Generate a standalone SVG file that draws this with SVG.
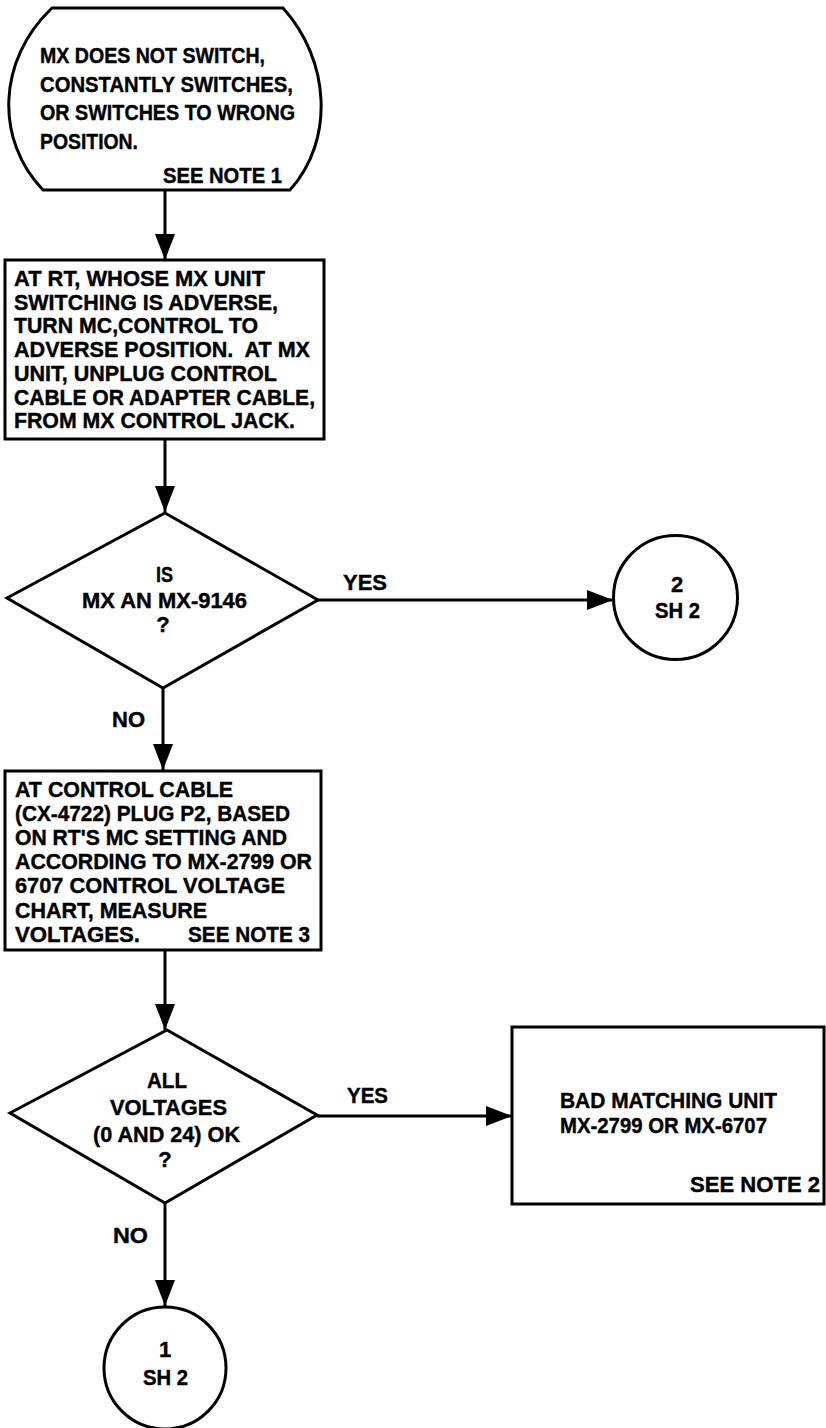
<svg xmlns="http://www.w3.org/2000/svg" width="826" height="1428" viewBox="0 0 826 1428">
<style>
.s{fill:#fff;stroke:#000;stroke-width:3;stroke-linejoin:miter}
.c{stroke:#000;stroke-width:3;fill:none}
text{font-family:"Liberation Sans","Arial",sans-serif;font-weight:bold;font-size:22px;fill:#000;stroke:#000;stroke-width:0.4}
.m{text-anchor:middle}
</style>
<defs>
<marker id="ah" markerUnits="userSpaceOnUse" markerWidth="26" markerHeight="20" refX="26" refY="10" orient="auto">
<path d="M0,0 L26,10 L0,20 Z" fill="#000"/>
</marker>
</defs>
<rect width="826" height="1428" fill="#fff"/>
<g id="connectors">
<line class="c" x1="165" y1="190" x2="165" y2="260" marker-end="url(#ah)"/>
<line class="c" x1="165" y1="439" x2="165" y2="512" marker-end="url(#ah)"/>
<line class="c" x1="163" y1="688" x2="163" y2="770" marker-end="url(#ah)"/>
<line class="c" x1="318" y1="600" x2="613" y2="600" marker-end="url(#ah)"/>
<line class="c" x1="165" y1="950" x2="165" y2="1030" marker-end="url(#ah)"/>
<line class="c" x1="317" y1="1116" x2="512" y2="1116" marker-end="url(#ah)"/>
<line class="c" x1="165" y1="1203" x2="165" y2="1306" marker-end="url(#ah)"/>
<text x="343" y="590" textLength="44" lengthAdjust="spacingAndGlyphs">YES</text>
<text x="112" y="727" textLength="33" lengthAdjust="spacingAndGlyphs">NO</text>
<text x="347" y="1103" textLength="41" lengthAdjust="spacingAndGlyphs">YES</text>
<text x="113" y="1243" textLength="35" lengthAdjust="spacingAndGlyphs">NO</text>
</g>
<g id="start">
<path class="s" d="M52,8 H283 C330,60 335,140 290,190 H43 C-5,140 -3,60 52,8 Z"/>
<text x="40" y="63" textLength="225" lengthAdjust="spacingAndGlyphs">MX DOES NOT SWITCH,</text>
<text x="40" y="91.5" textLength="253" lengthAdjust="spacingAndGlyphs">CONSTANTLY SWITCHES,</text>
<text x="40" y="120" textLength="255" lengthAdjust="spacingAndGlyphs">OR SWITCHES TO WRONG</text>
<text x="40" y="148.5" textLength="98" lengthAdjust="spacingAndGlyphs">POSITION.</text>
<text x="163" y="183" textLength="119" lengthAdjust="spacingAndGlyphs">SEE NOTE 1</text>
</g>
<g id="step1">
<rect class="s" x="5" y="260" width="319" height="179"/>
<text x="14" y="286" textLength="251" lengthAdjust="spacingAndGlyphs">AT RT, WHOSE MX UNIT</text>
<text x="14" y="309.7" textLength="264" lengthAdjust="spacingAndGlyphs">SWITCHING IS ADVERSE,</text>
<text x="14" y="333.4" textLength="244" lengthAdjust="spacingAndGlyphs">TURN MC,CONTROL TO</text>
<text x="14" y="357" textLength="296" lengthAdjust="spacingAndGlyphs" xml:space="preserve">ADVERSE POSITION.  AT MX</text>
<text x="14" y="380.8" textLength="263" lengthAdjust="spacingAndGlyphs">UNIT, UNPLUG CONTROL</text>
<text x="14" y="404.5" textLength="301" lengthAdjust="spacingAndGlyphs">CABLE OR ADAPTER CABLE,</text>
<text x="14" y="428" textLength="281" lengthAdjust="spacingAndGlyphs">FROM MX CONTROL JACK.</text>
</g>
<g id="decision1">
<polygon class="s" points="165,513 318,600 163,688 7,598"/>
<text x="156" y="582" textLength="17" lengthAdjust="spacingAndGlyphs">IS</text>
<text x="82" y="608" textLength="165" lengthAdjust="spacingAndGlyphs">MX AN MX-9146</text>
<text class="m" x="163" y="632">?</text>
</g>
<g id="offpage2">
<circle class="s" cx="675.5" cy="597.5" r="62"/>
<text class="m" x="677" y="592">2</text>
<text x="655" y="618" textLength="45" lengthAdjust="spacingAndGlyphs">SH 2</text>
</g>
<g id="step2">
<rect class="s" x="5" y="771" width="316" height="179"/>
<text x="15" y="796.7" textLength="218" lengthAdjust="spacingAndGlyphs">AT CONTROL CABLE</text>
<text x="15" y="820.8" textLength="275" lengthAdjust="spacingAndGlyphs">(CX-4722) PLUG P2, BASED</text>
<text x="15" y="845" textLength="272" lengthAdjust="spacingAndGlyphs">ON RT'S MC SETTING AND</text>
<text x="15" y="869" textLength="297" lengthAdjust="spacingAndGlyphs">ACCORDING TO MX-2799 OR</text>
<text x="15" y="893" textLength="270" lengthAdjust="spacingAndGlyphs">6707 CONTROL VOLTAGE</text>
<text x="15" y="917.5" textLength="192" lengthAdjust="spacingAndGlyphs">CHART, MEASURE</text>
<text x="15" y="941.7" textLength="125" lengthAdjust="spacingAndGlyphs">VOLTAGES.</text>
<text x="188" y="941.7" textLength="122" lengthAdjust="spacingAndGlyphs">SEE NOTE 3</text>
</g>
<g id="decision2">
<polygon class="s" points="167,1030 317,1115 165,1203 10,1113"/>
<text x="147" y="1088" textLength="40" lengthAdjust="spacingAndGlyphs">ALL</text>
<text x="110" y="1115" textLength="117" lengthAdjust="spacingAndGlyphs">VOLTAGES</text>
<text x="93" y="1142" textLength="147" lengthAdjust="spacingAndGlyphs">(0 AND 24) OK</text>
<text class="m" x="165" y="1167">?</text>
</g>
<g id="result">
<rect class="s" x="512" y="1027" width="312" height="177"/>
<text x="560" y="1108" textLength="217" lengthAdjust="spacingAndGlyphs">BAD MATCHING UNIT</text>
<text x="560" y="1133" textLength="207" lengthAdjust="spacingAndGlyphs">MX-2799 OR MX-6707</text>
<text x="690" y="1192" textLength="130" lengthAdjust="spacingAndGlyphs">SEE NOTE 2</text>
</g>
<g id="offpage1">
<circle class="s" cx="165" cy="1368" r="61"/>
<text class="m" x="165" y="1357">1</text>
<text x="143" y="1385" textLength="45" lengthAdjust="spacingAndGlyphs">SH 2</text>
</g>
</svg>
